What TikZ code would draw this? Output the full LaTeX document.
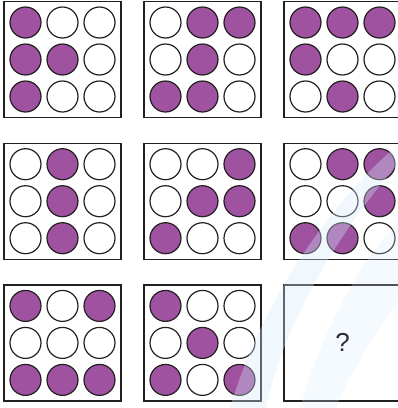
\documentclass[tikz,border=0pt]{standalone}
\usepackage{fontspec}
\setmainfont{Liberation Sans}
\definecolor{dotpurple}{RGB}{158,82,160}
\definecolor{edgecol}{RGB}{35,31,32}
\definecolor{wmblue}{RGB}{215,234,250}
\definecolor{qgray}{RGB}{45,45,50}
\newcommand\panel[4]{%
  \node[panelbox] (#1) at (#2,#3) {};
  \foreach \v [count=\i from 0] in {#4} {
    \pgfmathtruncatemacro\rw{int(\i/3)}
    \pgfmathtruncatemacro\cl{mod(\i,3)}
    \ifnum\v=1 \def\fc{dotpurple}\else\def\fc{white}\fi
    \node[dot, fill=\fc] (#1-\i) at ({#2+37*(\cl-1)},{#3+37*(\rw-1)}) {};
  }%
}
\begin{document}
\begin{tikzpicture}[x=1pt,y=-1pt,
  panelbox/.style={draw=edgecol, line width=1.3pt, minimum width=117pt, minimum height=116pt, inner sep=0pt},
  dot/.style={circle, draw=edgecol, line width=1.2pt, minimum size=31pt, inner sep=0pt},
  qmark/.style={text=qgray, font=\fontsize{26}{28}\selectfont}]
\useasboundingbox (0,0) rectangle (398,408);
\panel{b11}{62.5}{59.5}{1,0,0,1,1,0,1,0,0}
\panel{b12}{202.5}{59.5}{0,1,1,0,1,0,1,1,0}
\panel{b13}{342.5}{59.5}{1,1,1,1,0,0,0,1,0}
\panel{b21}{62.5}{201.2}{0,1,0,0,1,0,0,1,0}
\panel{b22}{202.5}{201.2}{0,0,1,0,1,1,1,0,0}
\panel{b23}{342.5}{201.2}{0,1,1,0,0,1,1,1,0}
\panel{b31}{62.5}{342.9}{1,0,1,0,0,0,1,1,1}
\panel{b32}{202.5}{342.9}{1,0,0,0,1,0,1,0,1}
\node[panelbox] (b33) at (342.5,342.9) {};
\fill[wmblue, fill opacity=0.35]
  (230,408) .. controls (262,300) and (330,205) .. (392,150)
  -- (398,164) .. controls (345,224) and (284,320) .. (266,408) -- cycle;
\fill[wmblue, fill opacity=0.25]
  (300,408) .. controls (322,330) and (360,262) .. (398,222)
  -- (398,300) .. controls (372,340) and (346,380) .. (336,408) -- cycle;
\node[qmark] (q) at (b33) {?};
\end{tikzpicture}
\end{document}
